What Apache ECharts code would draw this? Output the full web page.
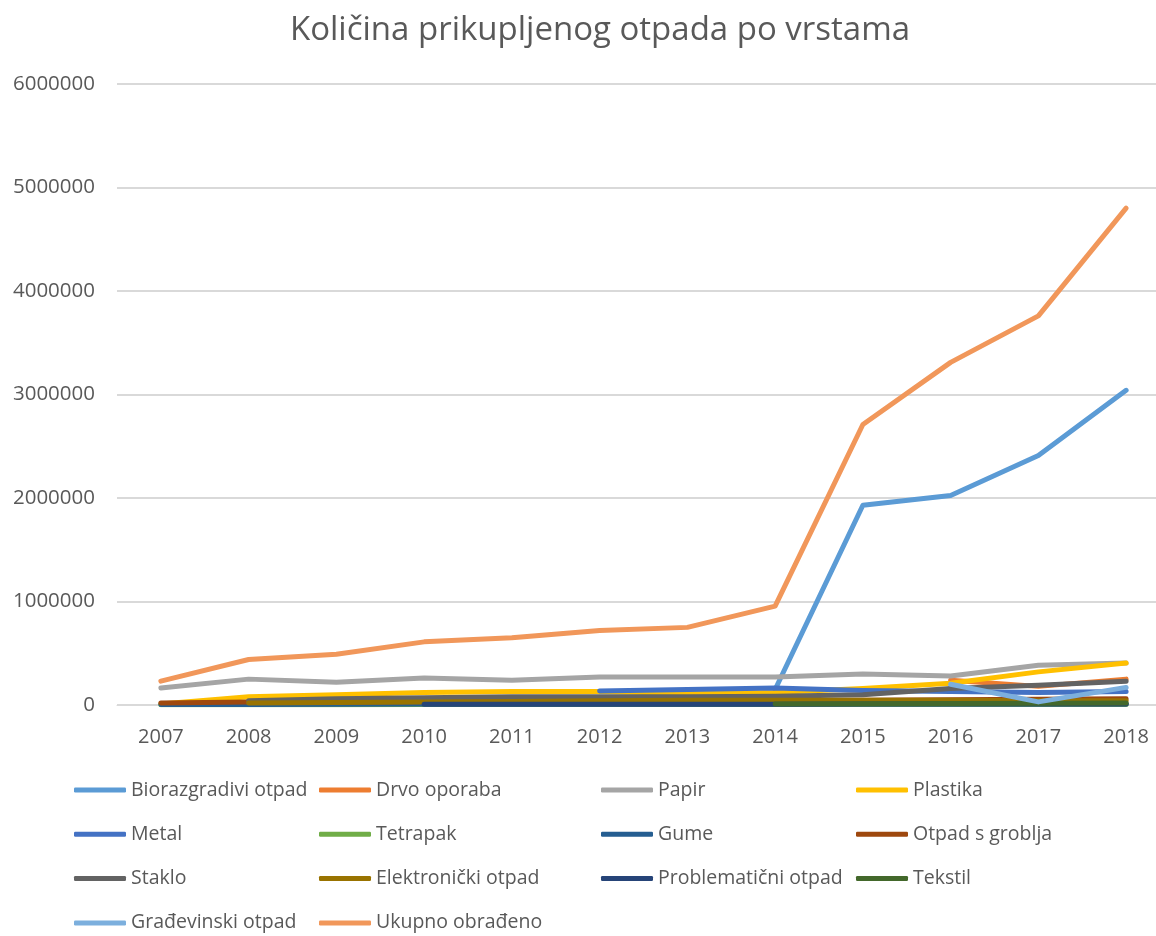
<!DOCTYPE html>
<html>
<head>
<meta charset="utf-8">
<script src="https://cdn.jsdelivr.net/npm/echarts@6/dist/echarts.min.js"></script>
<style>
  html, body { margin: 0; padding: 0; background: #fff; overflow: hidden; }
  #chart { width: 1170px; height: 936px; }
</style>
</head>
<body>
<div id="chart"></div>
<script>
// godine
const years = ['2007', '2008', '2009', '2010', '2011', '2012', '2013', '2014', '2015', '2016', '2017', '2018']

// količine po vrstama (procjena s grafa)
const biorazgradivi = [null, null, null, null, null, null, null, 150000, 1930000, 2025000, 2410000, 3040000]
const drvoOporaba = [null, null, null, null, null, null, null, null, null, 240000, 180000, 250000]
const papir = [165000, 250000, 220000, 260000, 240000, 270000, 270000, 270000, 300000, 280000, 385000, 405000]
const plastika = [10000, 80000, 100000, 120000, 130000, 130000, 110000, 120000, 160000, 210000, 320000, 405000]
const metal = [null, null, null, null, null, 135000, 150000, 165000, 140000, 130000, 120000, 130000]
const tetrapak = [3000, 3000, 3000, 4000, 4000, 4000, 4000, 4000, 5000, 5000, 5000, 5000]
const gume = [5000, 6000, 8000, 10000, 10000, 10000, 10000, 10000, 12000, 12000, 12000, 12000]
const otpadGroblja = [20000, 30000, 30000, 35000, 35000, 35000, 40000, 40000, 45000, 50000, 55000, 60000]
const staklo = [null, 40000, 60000, 70000, 80000, 80000, 80000, 85000, 100000, 160000, 190000, 230000]
const elektronicki = [null, 20000, 25000, 30000, 35000, 40000, 45000, 45000, 45000, 45000, 40000, 40000]
const problematicni = [null, null, null, 8000, 8000, 8000, 8000, 8000, 10000, 10000, 10000, 10000]
const tekstil = [null, null, null, null, null, null, null, 10000, 12000, 15000, 18000, 20000]
const gradjevinski = [null, null, null, null, null, null, null, null, null, 200000, 30000, 170000]
const ukupno = [230000, 440000, 490000, 610000, 650000, 720000, 750000, 955000, 2710000, 3310000, 3760000, 4800000]

const chart = echarts.init(document.getElementById('chart'))

const lineSeries = (name, data, color) => ({
  name,
  type: 'line',
  data,
  symbol: 'none',
  lineStyle: { width: 5, color, cap: 'round', join: 'round' },
  itemStyle: { color }
})

const legendBase = {
  orient: 'vertical',
  top: 780,
  padding: 0,
  icon: 'roundRect',
  itemWidth: 52,
  itemHeight: 5,
  itemGap: 24.3,
  textStyle: { fontSize: 19.5, color: '#595959', lineHeight: 20, fontFamily: 'Open Sans' }
}

const option = {
  animation: false,
  backgroundColor: '#fff',
  title: {
    text: 'Količina prikupljenog otpada po vrstama',
    left: 595,
    top: 9,
    textAlign: 'center',
    textStyle: { fontSize: 33, fontWeight: 'normal', color: '#595959', fontFamily: 'Open Sans' }
  },
  legend: [
    { ...legendBase, left: 74, data: ['Biorazgradivi otpad', 'Metal', 'Staklo', 'Građevinski otpad'] },
    { ...legendBase, left: 319, data: ['Drvo oporaba', 'Tetrapak', 'Elektronički otpad', 'Ukupno obrađeno'] },
    { ...legendBase, left: 601, data: ['Papir', 'Gume', 'Problematični otpad'] },
    { ...legendBase, left: 856, data: ['Plastika', 'Otpad s groblja', 'Tekstil'] }
  ],
  grid: {
    left: 117,
    top: 84,
    right: 0,
    bottom: 231
  },
  xAxis: {
    type: 'category',
    data: years,
    boundaryGap: true,
    axisLine: { lineStyle: { color: '#d9d9d9', width: 1 } },
    axisTick: { show: false },
    axisLabel: { fontSize: 20, color: '#595959', margin: 22, fontFamily: 'Open Sans' }
  },
  yAxis: {
    type: 'value',
    min: 0,
    max: 6000000,
    interval: 1000000,
    axisLine: { show: false },
    axisTick: { show: false },
    splitLine: { lineStyle: { color: '#d9d9d9', width: 2 } },
    axisLabel: {
      fontSize: 20.5,
      color: '#595959',
      margin: 22,
      fontFamily: 'Open Sans',
      formatter: v => String(v)
    }
  },
  series: [
    lineSeries('Biorazgradivi otpad', biorazgradivi, '#5B9BD5'),
    lineSeries('Drvo oporaba', drvoOporaba, '#ED7D31'),
    lineSeries('Papir', papir, '#A5A5A5'),
    lineSeries('Plastika', plastika, '#FFC000'),
    lineSeries('Metal', metal, '#4472C4'),
    lineSeries('Tetrapak', tetrapak, '#70AD47'),
    lineSeries('Gume', gume, '#255E91'),
    lineSeries('Otpad s groblja', otpadGroblja, '#9E480E'),
    lineSeries('Staklo', staklo, '#636363'),
    lineSeries('Elektronički otpad', elektronicki, '#997300'),
    lineSeries('Problematični otpad', problematicni, '#264478'),
    lineSeries('Tekstil', tekstil, '#43682B'),
    lineSeries('Građevinski otpad', gradjevinski, '#7CAFDD'),
    lineSeries('Ukupno obrađeno', ukupno, '#F1975A')
  ]
}

chart.setOption(option)
</script>
</body>
</html>
